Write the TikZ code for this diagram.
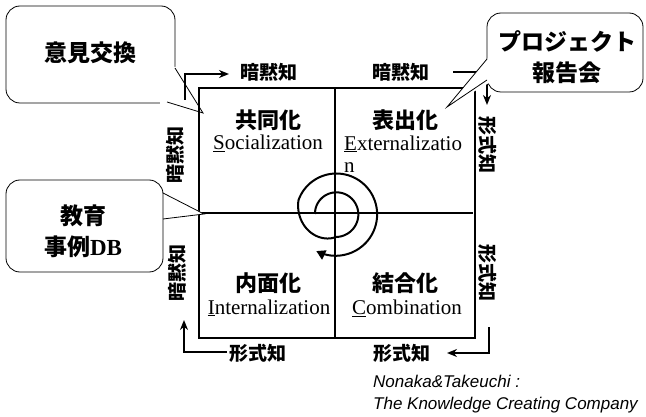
\documentclass[tikz,border=0pt]{standalone}
\usepackage{fontspec}
\setmainfont{Liberation Serif}
\newfontfamily\jp{Noto Sans CJK JP}
\newfontfamily\refsans{Liberation Sans}
\usetikzlibrary{arrows.meta}
\begin{document}
\begin{tikzpicture}[x=1pt,y=-1pt,
  declare function={sr(\t)=21+2*min(1,(\t-180)/270)+17*min(1,max(0,(\t-450)/110))+2*max(0,(\t-560)/280);},
  lbl/.style={font=\jp\bfseries\fontsize{19}{19}\selectfont, inner sep=0pt},
  qt/.style={font=\jp\bfseries\fontsize{22}{22}\selectfont, inner sep=0pt},
  en/.style={font=\fontsize{21}{22}\selectfont, inner sep=0pt},
  ct/.style={font=\jp\bfseries\fontsize{23}{31}\selectfont, align=center, inner sep=0pt},
  cbox/.style={draw, fill=white, line width=0.8pt, rounded corners=14pt},
  cptr/.style={draw, line width=0.8pt, line join=miter},
  erase/.style={fill=white},
  arr/.style={line width=2pt, -{Stealth[length=10pt,width=8pt]}},
  frame/.style={line width=2pt},
  refs/.style={font=\refsans\itshape\fontsize{17}{17}\selectfont, inner sep=0pt, anchor=west}]
\useasboundingbox (0,0) rectangle (646,417);

% callout 1 (below top-left arrow)
\draw[cbox] (6,6) rectangle (175,103);
\fill[erase] (176,67) -- (203,113) -- (160,104) -- (160,67) -- cycle;
\draw[cptr] (175,68) -- (203,113) -- (167,102);
\node[ct] (c1) at (91,53) {意見交換};

% square
\draw[frame] (199,88) rectangle (475,338);
\coordinate (mt) at (335,88); \coordinate (mb) at (335,338);
\coordinate (ml) at (199,213); \coordinate (mr) at (473,213);
\draw[frame] (mt) -- (mb);
\draw[frame] (ml) -- (mr);

% quadrant texts
\node[qt] (q1) at (268,120) {共同化};
\node[en] (e1) at (268,143) {\underline{S}ocialization};
\node[qt] (q2) at (405,120) {表出化};
\node[en, anchor=west, align=left] (e2) at (344,154) {\underline{E}xternalizatio\\n};
\node[qt] (q3) at (268,283) {内面化};
\node[en] (e3) at (269,308) {\underline{I}nternalization};
\node[qt] (q4) at (405,283) {結合化};
\node[en] (e4) at (407,308) {\underline{C}ombination};

% spiral
\draw[line width=2pt, -{Triangle[length=9pt,width=10pt]}]
  plot[domain=180:838, samples=160, variable=\t, smooth] ({336+sr(\t)*cos(\t)}, {214+sr(\t)*sin(\t)});

% side labels
\node[lbl] (t1) at (269,72) {暗黙知};
\node[lbl] (t2) at (401,72) {暗黙知};
\node[lbl, rotate=90] (l1) at (175,155) {暗黙知};
\node[lbl, rotate=90] (l2) at (177,273) {暗黙知};
\node[lbl, rotate=-90] (r1) at (488,145) {形式知};
\node[lbl, rotate=-90] (r2) at (488,273) {形式知};
\node[lbl] (b1) at (258,353) {形式知};
\node[lbl] (b2) at (402,353) {形式知};

% arrows
\coordinate (a1s) at (185,100); \coordinate (a1c) at (185,74); \coordinate (a1e) at (229,74);
\draw[arr] (a1s) -- (a1c) -- (a1e);
\coordinate (a2s) at (453,72); \coordinate (a2c) at (487,72); \coordinate (a2e) at (487,105);
\draw[arr] (a2s) -- (a2c) -- (a2e);
\coordinate (a3s) at (489,327); \coordinate (a3c) at (489,353); \coordinate (a3e) at (447,353);
\draw[arr] (a3s) -- (a3c) -- (a3e);
\coordinate (a4s) at (227,352); \coordinate (a4c) at (184,352); \coordinate (a4e) at (184,320);
\draw[arr] (a4s) -- (a4c) -- (a4e);

% callout 2
\draw[cbox] (487,13) rectangle (643,92);
\fill[erase] (489,57) -- (447,107) -- (489,83) -- cycle;
\draw[cptr] (487,59) -- (447,107) -- (487,80);
\node[ct] (c2) at (567,57) {プロジェクト\\報告会};

% callout 3
\draw[cbox] (6,180) rectangle (163,272);
\fill[erase] (165,191) -- (204,214) -- (165,221) -- cycle;
\draw[cptr] (163,193) -- (204,214) -- (163,219);
\node[ct] (c3) at (83,231) {教育\\事例{\fontspec{Liberation Serif}\bfseries DB}};

% reference
\node[refs] (n1) at (373,381) {Nonaka\&Takeuchi :};
\node[refs] (n2) at (373,405) {The Knowledge Creating Company};
\end{tikzpicture}
\end{document}
